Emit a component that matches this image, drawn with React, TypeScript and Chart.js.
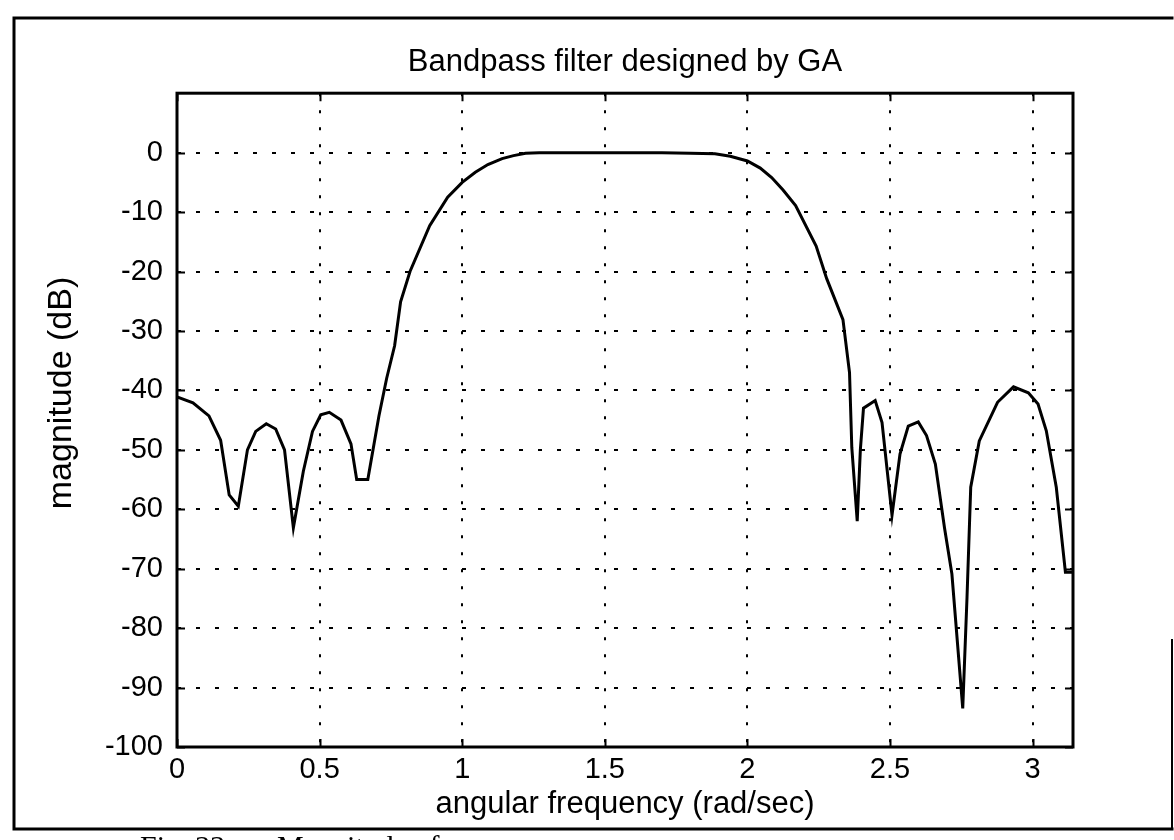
import { useEffect, useRef } from "react";
import { Chart, registerables } from "chart.js";

Chart.register(...registerables);

// Frequency samples (rad/sec) and the magnitude response of the GA-designed bandpass filter (dB)
const frequency = [
  0, 0.056, 0.112, 0.153, 0.183, 0.215, 0.247, 0.276, 0.313, 0.346, 0.377, 0.408, 0.443,
  0.475, 0.504, 0.534, 0.575, 0.61, 0.63, 0.669, 0.708, 0.735, 0.763, 0.784, 0.817, 0.886,
  0.949, 1.0, 1.046, 1.09, 1.14, 1.18, 1.222, 1.27, 1.4, 1.5, 1.6, 1.7, 1.8, 1.886, 1.94,
  2.0, 2.045, 2.085, 2.125, 2.169, 2.241, 2.278, 2.335, 2.358, 2.366, 2.385, 2.396, 2.407,
  2.448, 2.472, 2.507, 2.535, 2.564, 2.599, 2.628, 2.659, 2.691, 2.717, 2.755, 2.77, 2.783,
  2.813, 2.877, 2.933, 2.985, 3.019, 3.048, 3.083, 3.115, 3.1416,
];
const magnitudeDb = [
  -41.1, -42.1, -44.3, -48.4, -57.6, -59.5, -50, -46.9, -45.6, -46.5, -50, -63.1, -53.6,
  -46.9, -44.1, -43.7, -45, -49, -55, -55, -44.3, -38, -32.5, -25.1, -20, -12.3,
  -7.5, -5.0, -3.3, -2.0, -1.0, -0.5, -0.1, 0, 0, 0, 0, 0, -0.1, -0.2, -0.6,
  -1.4, -2.6, -4.2, -6.3, -8.9, -15.7, -21.2, -28.1, -37, -49.6, -62, -50, -43,
  -41.7, -45.4, -61, -50.7, -46, -45.3, -47.6, -52.4, -63.1, -70.9, -93.5, -74.8, -56.3,
  -48.5, -42, -39.4, -40.4, -42.3, -46.8, -56.3, -70.6, -70.6,
];

const xTickValues = [0, 0.5, 1, 1.5, 2, 2.5, 3];
const yTickValues = [0, -10, -20, -30, -40, -50, -60, -70, -80, -90, -100];

const chartTitle = "Bandpass filter designed by GA";
const xAxisTitle = "angular frequency (rad/sec)";
const yAxisTitle = "magnitude (dB)";
const captionLabel = "Fig. 33.";
const captionText = "Magnitude of";

const WIDTH = 1174;
const HEIGHT = 840;
const SANS = "'Liberation Sans', Arial, Helvetica, sans-serif";
const SERIF = "'Liberation Serif', 'Times New Roman', serif";

// White page with the heavy outer frame, the vertical axis label and the caption line
const pagePlugin = {
  id: "pageFrame",
  beforeDraw(chart: any) {
    const ctx = chart.ctx;
    ctx.save();
    ctx.fillStyle = "#ffffff";
    ctx.fillRect(0, 0, WIDTH, HEIGHT);
    ctx.strokeStyle = "#000000";
    ctx.lineCap = "square";
    ctx.lineWidth = 3;
    ctx.beginPath();
    ctx.moveTo(1172, 18);
    ctx.lineTo(14, 18);
    ctx.lineTo(14, 829);
    ctx.lineTo(1172, 829);
    ctx.stroke();
    ctx.lineWidth = 2;
    ctx.beginPath();
    ctx.moveTo(1172, 640);
    ctx.lineTo(1172, 829);
    ctx.stroke();
    ctx.restore();
  },
  afterDraw(chart: any) {
    const ctx = chart.ctx;
    ctx.save();
    ctx.fillStyle = "#000000";
    // vertical axis label
    ctx.save();
    ctx.translate(62, 393);
    ctx.rotate(-Math.PI / 2);
    ctx.font = `34px ${SANS}`;
    ctx.textAlign = "center";
    ctx.textBaseline = "middle";
    ctx.fillText(yAxisTitle, 0, 0);
    ctx.restore();
    // caption, cut by the page edge
    ctx.font = `30px ${SERIF}`;
    ctx.textBaseline = "alphabetic";
    ctx.textAlign = "left";
    ctx.fillText(captionLabel, 140, 856);
    ctx.fillText(captionText, 277, 856);
    ctx.restore();
  },
};

// Axes box with inward tick marks on all four sides
const axesBoxPlugin = {
  id: "axesBox",
  afterDatasetsDraw(chart: any) {
    const { ctx, chartArea, scales } = chart;
    const { left, right, top, bottom } = chartArea;
    const tick = 8;
    ctx.save();
    ctx.strokeStyle = "#000000";
    ctx.lineWidth = 2;
    ctx.beginPath();
    for (const v of xTickValues) {
      const px = Math.round(scales.x.getPixelForValue(v)) + 0.5;
      ctx.moveTo(px, bottom);
      ctx.lineTo(px, bottom - tick);
      ctx.moveTo(px, top);
      ctx.lineTo(px, top + tick);
    }
    for (const v of yTickValues) {
      const py = Math.round(scales.y.getPixelForValue(v)) + 0.5;
      ctx.moveTo(left, py);
      ctx.lineTo(left + tick, py);
      ctx.moveTo(right, py);
      ctx.lineTo(right - tick, py);
    }
    ctx.stroke();
    ctx.lineWidth = 3;
    ctx.strokeRect(left, top, right - left, bottom - top);
    ctx.restore();
  },
};

export default function App() {
  const canvasRef = useRef<HTMLCanvasElement | null>(null);

  useEffect(() => {
    const canvas = canvasRef.current;
    if (!canvas) return;
    const points = frequency.map((f, i) => ({ x: f, y: magnitudeDb[i] }));

    const chart = new Chart(canvas, {
      type: "line",
      data: {
        datasets: [
          {
            data: points,
            borderColor: "#000000",
            borderWidth: 3,
            pointRadius: 0,
            tension: 0,
            fill: false,
          },
        ],
      },
      options: {
        animation: false,
        responsive: false,
        devicePixelRatio: 1,
        layout: { padding: { top: 44, left: 0, right: WIDTH - 1073, bottom: 0 } },
        plugins: {
          legend: { display: false },
          tooltip: { enabled: false },
          title: {
            display: true,
            text: chartTitle,
            color: "#000000",
            fullSize: false,
            font: { family: SANS, size: 31, weight: "normal", lineHeight: 1.2 },
            padding: { top: 0, bottom: 12 },
          },
        },
        scales: {
          x: {
            type: "linear",
            min: 0,
            max: Math.PI,
            afterBuildTicks: (scale: any) => {
              scale.ticks = xTickValues.map((v) => ({ value: v }));
            },
            afterFit: (scale: any) => {
              scale.height = HEIGHT - 747;
            },
            grid: {
              color: "#000000",
              lineWidth: 2,
              drawTicks: false,
            },
            border: { display: false, dash: [3, 14] },
            ticks: {
              color: "#000000",
              padding: 6,
              maxRotation: 0,
              autoSkip: false,
              font: { family: SANS, size: 29 },
              callback: (v: any) => String(v),
            },
            title: {
              display: true,
              text: xAxisTitle,
              color: "#000000",
              font: { family: SANS, size: 31, lineHeight: 1.2 },
              padding: { top: 0, bottom: 17 },
            },
          },
          y: {
            type: "linear",
            min: -100,
            max: 10,
            afterBuildTicks: (scale: any) => {
              scale.ticks = yTickValues.map((v) => ({ value: v }));
            },
            afterFit: (scale: any) => {
              scale.width = 177;
            },
            grid: {
              color: "#000000",
              lineWidth: 2,
              drawTicks: false,
            },
            border: { display: false, dash: [4, 15] },
            ticks: {
              color: "#000000",
              padding: 14,
              autoSkip: false,
              font: { family: SANS, size: 29 },
              callback: (v: any) => String(v),
            },
            title: { display: false, text: yAxisTitle },
          },
        },
      } as any,
      plugins: [pagePlugin, axesBoxPlugin],
    });

    return () => chart.destroy();
  }, []);

  return (
    <div
      style={{
        position: "fixed",
        left: 0,
        top: 0,
        width: WIDTH,
        height: HEIGHT,
        background: "#ffffff",
        overflow: "hidden",
      }}
    >
      <canvas ref={canvasRef} width={WIDTH} height={HEIGHT} style={{ display: "block" }} />
    </div>
  );
}
